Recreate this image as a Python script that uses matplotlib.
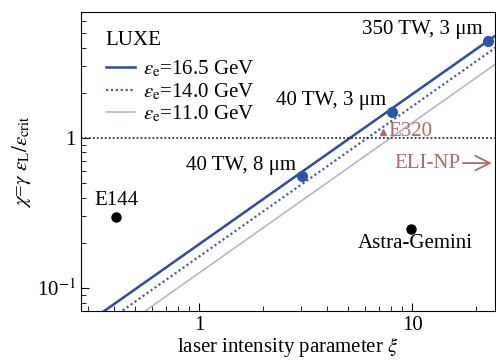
import matplotlib
matplotlib.use("Agg")
import matplotlib.pyplot as plt
from matplotlib.ticker import FixedLocator, FixedFormatter, LogLocator, NullFormatter

plt.rcParams["font.family"] = ["Liberation Serif", "DejaVu Serif"]
plt.rcParams["mathtext.fontset"] = "stix"

# LUXE lines, read at the two ends of the x range
xi_line = [0.25, 30.0]
chi_165 = [0.049, 5.85]
chi_140 = [0.0405, 4.86]
chi_110 = [0.0315, 3.78]

# LUXE laser configurations
luxe_xi = [3.05, 8.03, 22.7]
luxe_chi = [0.558, 1.50, 4.45]
luxe_labels = ["40 TW, 8 μm", "40 TW, 3 μm", "350 TW, 3 μm"]

# other experiments
other_xi = [0.41, 9.9]
other_chi = [0.296, 0.247]
other_labels = ["E144", "Astra-Gemini"]

e320_xi, e320_chi = 7.3, 1.1
eli_xi, eli_chi = 16.8, 0.68

blue = "#2d4d95"
dot_blue = "#4a5cb0"
light = "#b4b4d6"
red = "#b06a6a"
fs = 15

fig = plt.figure(figsize=(4.96, 3.63), dpi=100)
ax = fig.add_axes([0.163, 0.143, 0.835, 0.824])

ax.plot(xi_line, chi_165, color=blue, lw=1.8, label=r"$\varepsilon_\mathrm{e}$=16.5 GeV")
ax.plot(xi_line, chi_140, color=dot_blue, lw=1.6, ls=(0, (1, 1.2)),
        label=r"$\varepsilon_\mathrm{e}$=14.0 GeV")
ax.plot(xi_line, chi_110, color=light, lw=1.2, label=r"$\varepsilon_\mathrm{e}$=11.0 GeV")
ax.axhline(1, color="#333333", lw=1.3, ls=(0, (1, 1.2)))

ax.plot(luxe_xi, luxe_chi, "o", color="#2a55a8", ms=7, zorder=5)
for x, y, t in zip(luxe_xi, luxe_chi, luxe_labels):
    ax.text(x * 0.94, y * 1.02, t, ha="right", va="bottom", fontsize=fs)

ax.plot(other_xi, other_chi, "o", color="black", ms=6.5)
ax.text(other_xi[0], other_chi[0] * 1.12, other_labels[0], ha="center", va="bottom", fontsize=fs)
ax.text(other_xi[1] * 1.05, other_chi[1] * 0.93, other_labels[1], ha="center", va="top", fontsize=fs)

ax.plot([e320_xi], [e320_chi], "^", color=red, ms=5)
ax.text(e320_xi * 1.06, e320_chi * 1.0, "E320", color=red, fontsize=fs, va="center", ha="left")
ax.annotate("", xy=(24.4, eli_chi), xytext=(eli_xi, eli_chi), annotation_clip=False,
            arrowprops=dict(arrowstyle="->", color=red, lw=1.3, mutation_scale=26))
ax.text(eli_xi, eli_chi, "ELI-NP", color=red, fontsize=fs, va="center", ha="right")

ax.set_xscale("log")
ax.set_yscale("log")
ax.set_xlim(0.279, 24.5)
ax.set_ylim(0.0703, 6.9)

ax.xaxis.set_major_locator(FixedLocator([1, 10]))
ax.xaxis.set_major_formatter(FixedFormatter(["1", "10"]))
ax.yaxis.set_major_locator(FixedLocator([0.1, 1]))
ax.yaxis.set_major_formatter(FixedFormatter([r"10$^{-1}$", "1"]))
ax.xaxis.set_minor_locator(LogLocator(base=10, subs=range(2, 10)))
ax.yaxis.set_minor_locator(LogLocator(base=10, subs=range(2, 10)))
ax.xaxis.set_minor_formatter(NullFormatter())
ax.yaxis.set_minor_formatter(NullFormatter())
ax.tick_params(which="both", direction="in", labelsize=fs)
ax.tick_params(which="major", length=6)
ax.tick_params(which="minor", length=3.5)

ax.set_xlabel(r"laser intensity parameter $\xi$", fontsize=fs, labelpad=0)
ax.set_ylabel(r"$\chi$=$\gamma\ \varepsilon_\mathrm{L}/\varepsilon_\mathrm{crit}$", fontsize=fs, labelpad=3)

leg = ax.legend(title="LUXE", loc="upper left", frameon=False, fontsize=fs,
                title_fontsize=fs, handlelength=1.4, handletextpad=0.4,
                labelspacing=0.1, borderaxespad=0.3, bbox_to_anchor=(0.025, 0.985))
leg._legend_box.align = "left"
leg._legend_box.sep = 6

fig.savefig("out.png", dpi=100)
